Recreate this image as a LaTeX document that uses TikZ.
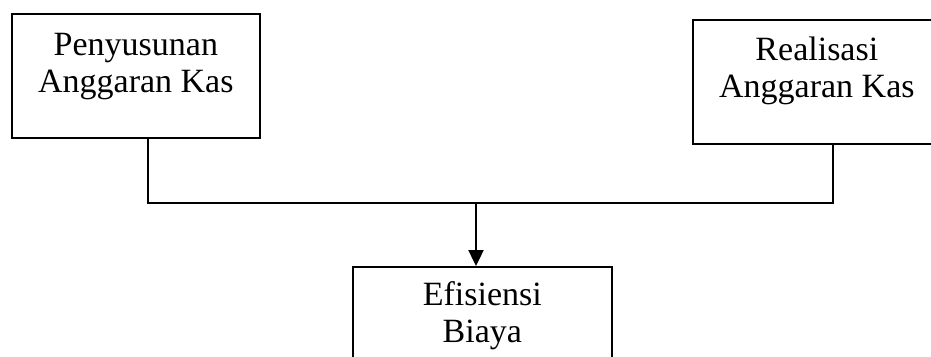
\documentclass[tikz,border=0pt]{standalone}
\usepackage{fontspec}
\setmainfont{Liberation Serif}
\usetikzlibrary{arrows.meta}
\tikzset{
  boxnode/.style={draw=black, line width=1.7pt, rectangle, inner sep=0pt, anchor=north west},
  link/.style={draw=black, line width=1.8pt},
  arrowlink/.style={draw=black, line width=2.4pt, -{Triangle[width=15pt,length=16pt]}}
}
\newcommand{\boxtext}[4]{\parbox[c][#2pt][t]{#1pt}{\centering\fontsize{34}{37}\selectfont\rule{0pt}{#3pt}#4}}
\begin{document}
\begin{tikzpicture}[x=1pt,y=-1pt]
\clip (0,0) rectangle (931,356);
\fill[white] (0,0) rectangle (931,356);
\node[boxnode] (pk) at (11,13) {\boxtext{248}{124}{42}{Penyusunan\\Anggaran Kas}};
\node[boxnode] (rk) at (692,19) {\boxtext{248}{124}{41}{Realisasi\\Anggaran Kas}};
\node[boxnode] (ek) at (352,266) {\boxtext{259}{120}{39}{Efisiensi\\Biaya}};
\coordinate (j) at (476,203);
\draw[link] ([xshift=12pt]pk.south) |- (j) -| ([xshift=16pt]rk.south);
\draw[arrowlink] (j) -- (j |- ek.north);
\end{tikzpicture}
\end{document}
